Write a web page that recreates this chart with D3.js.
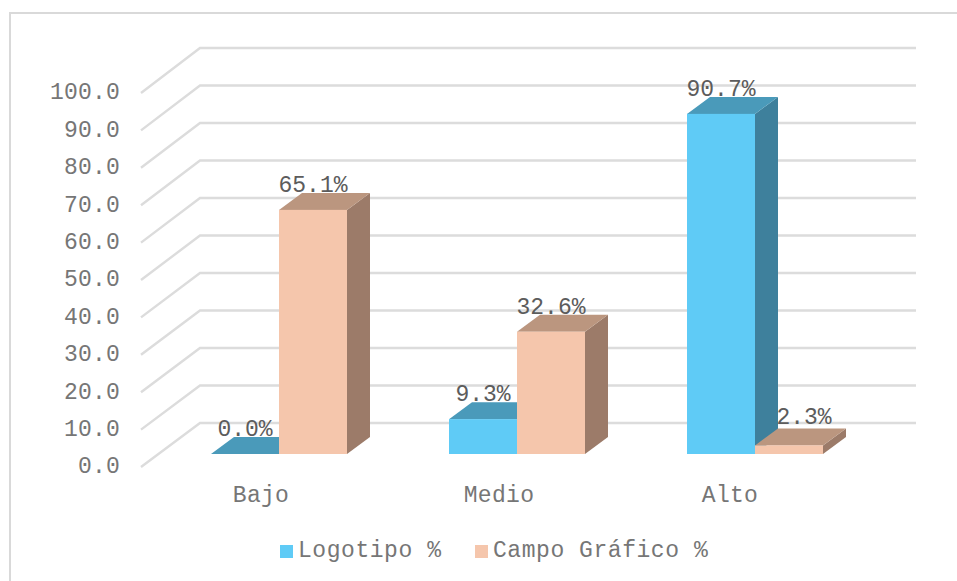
<!DOCTYPE html>
<html>
<head>
<meta charset="utf-8">
<script src="https://cdn.jsdelivr.net/npm/d3@7"></script>
<style>
  body { margin: 0; background: #fff; }
  svg { display: block; }
  text { font-family: "Liberation Mono", monospace; }
</style>
</head>
<body>
<svg width="957" height="581"></svg>
<script>
var categories = ["Bajo", "Medio", "Alto"];
var series = ["Logotipo %", "Campo Gráfico %"];
var logotipo = [0.0, 9.3, 90.7];
var campoGrafico = [65.1, 32.6, 2.3];
var ticks = [0, 10, 20, 30, 40, 50, 60, 70, 80, 90, 100];

var seriesValues = [logotipo, campoGrafico];
var faceColors = ["#5fcbf6", "#f5c6ac"];
var topColors = ["#4a9aba", "#bb967f"];
var sideColors = ["#3e809c", "#9c7b69"];

var svg = d3.select("svg");

// chart frame, runs off the right and bottom of the window
svg.append("rect")
  .attr("x", 10)
  .attr("y", 13)
  .attr("width", 980)
  .attr("height", 600)
  .attr("fill", "none")
  .attr("stroke", "#d9d9d9")
  .attr("stroke-width", 2);

var yFront = d3.scaleLinear().domain([0, 100]).range([467, 93]);
var yBack = d3.scaleLinear().domain([0, 100]).range([423, 48]);
var yBar = d3.scaleLinear().domain([0, 100]).range([454, 79]);

var x0 = d3.scaleBand().domain(categories).range([160, 874]);
var x1 = d3.scaleBand().domain(d3.range(series.length)).range([-68, 68]);

var wallLeft = 200, wallRight = 916, floorLeft = 141;
var depthX = 23, depthY = -17;

var poly = d3.line();

// walls
var grid = svg.append("g")
  .attr("fill", "none")
  .attr("stroke", "#dcdcdc")
  .attr("stroke-width", 2.4);

grid.selectAll("path")
  .data(ticks)
  .enter().append("path")
    .attr("d", function(d) {
      return poly([[floorLeft, yFront(d)], [wallLeft, yBack(d)], [wallRight, yBack(d)]]);
    });

// y axis sits on the front edge of the side wall
var yAxis = svg.append("g")
  .attr("transform", "translate(126,-1.5)")
  .call(d3.axisLeft(yFront).tickValues(ticks).tickFormat(d3.format(".1f")).tickSize(0));
yAxis.select(".domain").remove();
yAxis.selectAll("text")
  .attr("x", -6)
  .attr("dy", "0.32em")
  .style("font-size", "23px")
  .style("letter-spacing", "0.2px")
  .style("fill", "#767676");

// x axis, labels sit left of the band centre like the original
var labelShift = {Bajo: -18, Medio: -18, Alto: -25};
var xAxis = svg.append("g")
  .attr("transform", "translate(0,485)")
  .call(d3.axisBottom(x0).tickSize(0));
xAxis.select(".domain").remove();
xAxis.selectAll("text")
  .attr("x", function(d) { return labelShift[d]; })
  .attr("y", 0)
  .attr("dy", "0.75em")
  .style("font-size", "23px")
  .style("letter-spacing", "0.3px")
  .style("fill", "#767676");

// bars
var bars = [];
categories.forEach(function(c, i) {
  seriesValues.forEach(function(vals, s) {
    bars.push({cat: c, s: s, value: vals[i]});
  });
});

var bar = svg.append("g").selectAll("g")
  .data(bars)
  .enter().append("g");

function left(d) { return x0(d.cat) + x0.bandwidth() / 2 + x1(d.s); }
function right(d) { return left(d) + x1.bandwidth(); }

bar.append("path")
  .attr("fill", function(d) { return sideColors[d.s]; })
  .attr("d", function(d) {
    var x = right(d), t = yBar(d.value), b = yBar(0);
    return poly([[x, t], [x + depthX, t + depthY], [x + depthX, b + depthY], [x, b]]) + "Z";
  });

bar.append("path")
  .attr("fill", function(d) { return topColors[d.s]; })
  .attr("d", function(d) {
    var l = left(d), r = right(d), t = yBar(d.value);
    return poly([[l, t], [l + depthX, t + depthY], [r + depthX, t + depthY], [r, t]]) + "Z";
  });

bar.append("rect")
  .attr("fill", function(d) { return faceColors[d.s]; })
  .attr("x", left)
  .attr("y", function(d) { return yBar(d.value); })
  .attr("width", x1.bandwidth())
  .attr("height", function(d) { return yBar(0) - yBar(d.value); });

// value labels, the 2.3 one was moved by hand in the original
svg.append("g").selectAll("text")
  .data(bars)
  .enter().append("text")
    .attr("text-anchor", "middle")
    .attr("x", function(d) {
      return (left(d) + right(d)) / 2 + (d.value == 2.3 ? 15 : 0);
    })
    .attr("y", function(d) {
      return yBar(d.value) - (d.value == 2.3 ? 21 : 18);
    })
    .style("font-size", "23px")
    .style("fill", "#5c5c5c")
    .text(function(d) { return d3.format(".1f")(d.value) + "%"; });

// legend
var legendX = [280, 475];
var legend = svg.append("g").selectAll("g")
  .data(series)
  .enter().append("g")
    .attr("transform", function(d, i) { return "translate(" + legendX[i] + ",545)"; });

legend.append("rect")
  .attr("width", 13)
  .attr("height", 13)
  .attr("fill", function(d, i) { return faceColors[i]; });

legend.append("text")
  .attr("x", 18)
  .attr("y", 12)
  .style("font-size", "23px")
  .style("letter-spacing", "0.55px")
  .style("fill", "#767676")
  .text(function(d) { return d; });
</script>
</body>
</html>
